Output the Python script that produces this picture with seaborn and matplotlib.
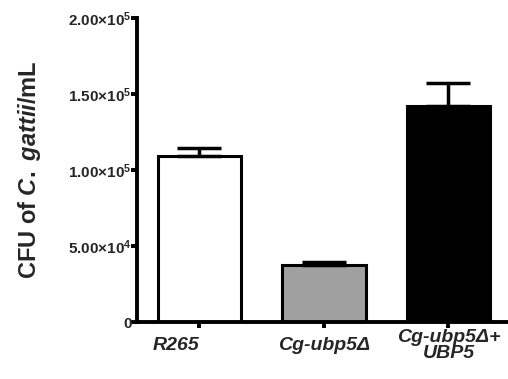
import matplotlib
matplotlib.use("Agg")
import matplotlib.pyplot as plt
import seaborn as sns
import pandas as pd

strains = ["R265", "Cg-ubp5Δ", "Cg-ubp5Δ+\nUBP5"]
means = [1.09e5, 0.375e5, 1.42e5]
sems = [0.055e5, 0.02e5, 0.15e5]
colors = ["#ffffff", "#a0a0a0", "#000000"]
yticks = [0, 5e4, 1e5, 1.5e5, 2e5]
ytick_labels = ["0", r"$\mathbf{5.00{\times}10^{4}}$", r"$\mathbf{1.00{\times}10^{5}}$",
                r"$\mathbf{1.50{\times}10^{5}}$", r"$\mathbf{2.00{\times}10^{5}}$"]

sns.set_theme(style="ticks")
plt.rcParams['font.family'] = ['Liberation Sans', 'DejaVu Sans']
plt.rcParams['mathtext.fontset'] = 'custom'
plt.rcParams['mathtext.rm'] = 'Liberation Sans:bold'
plt.rcParams['mathtext.bf'] = 'Liberation Sans:bold'
plt.rcParams['mathtext.it'] = 'Liberation Sans:italic:bold'

df = pd.DataFrame({"strain": strains, "cfu": means})

fig = plt.figure(figsize=(5.08, 3.79), dpi=100)
ax = fig.add_axes([0.27, 0.150, 0.728, 0.803])
sns.barplot(data=df, x="strain", y="cfu", hue="strain", palette=colors,
            width=0.67, edgecolor="black", linewidth=2.2, legend=False, ax=ax)
ax.errorbar(range(len(strains)), means, yerr=[[0] * len(strains), sems], fmt="none",
            ecolor="black", elinewidth=2.5, capsize=16, capthick=2.5, zorder=1)

ax.set_ylim(0, 2e5)
ax.set_xlim(-0.5, 2.47)
ax.set_yticks(yticks)
ax.set_yticklabels(ytick_labels, fontsize=11, fontweight="bold")
sns.despine(ax=ax)
for s in ["left", "bottom"]:
    ax.spines[s].set_linewidth(2.8)
    ax.spines[s].set_color("black")
ax.tick_params(axis="both", length=4, width=2.8, color="black")
ax.tick_params(axis="y", pad=0)
ax.tick_params(axis="x", pad=13)
for i, lab in enumerate(ax.get_xticklabels()):
    lab.set_fontsize(14)
    lab.set_fontweight("bold")
    lab.set_fontstyle("italic")
    lab.set_verticalalignment("center")
    lab.set_linespacing(0.9)
    if i == 0:
        lab.set_horizontalalignment("right")
ax.set_xlabel("")
ax.set_ylabel(r"CFU of $\mathit{C.\ gattii}$/mL", fontsize=17, fontweight="bold")
ax.yaxis.set_label_coords(-0.255, 0.5)

fig.savefig("out.png", dpi=100)
